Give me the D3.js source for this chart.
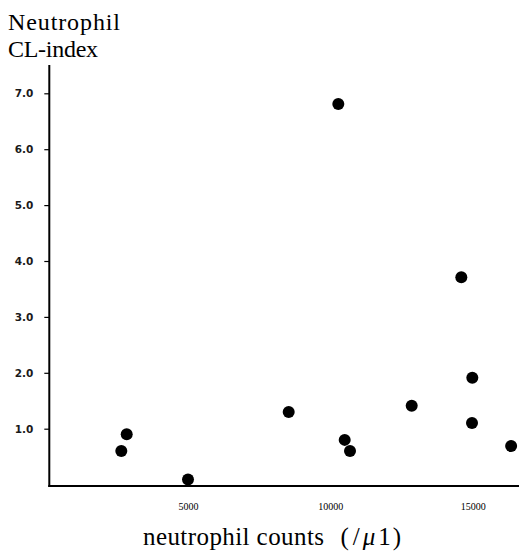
<!DOCTYPE html>
<html><head><meta charset="utf-8">
<script src="https://cdn.jsdelivr.net/npm/d3@7"></script>
<style>body{margin:0;background:#fff}</style>
</head><body>
<script>
const counts = [2657, 2847, 5000, 8537, 10279, 10504, 10690, 12857, 14600, 14986, 14975, 16350];
const clIndex = [0.60, 0.90, 0.09, 1.30, 6.81, 0.80, 0.60, 1.41, 3.71, 1.91, 1.10, 0.69];
const xTicks = [5000, 10000, 15000];
const yTicks = [1, 2, 3, 4, 5, 6, 7];

const W = 519, H = 554;
const svg = d3.select("body").append("svg").attr("width", W).attr("height", H);
const x = d3.scaleLinear().domain([0, 16640]).range([45.65, 519.4]);
const y = d3.scaleLinear().domain([0, 7]).range([484.6, 93.3]);
const axisX = 49.3, axisY = 486;

// y axis
svg.append("line").attr("x1", axisX).attr("x2", axisX).attr("y1", 65).attr("y2", axisY + 1)
  .attr("stroke", "#000").attr("stroke-width", 2);
// x axis
svg.append("line").attr("x1", axisX - 1).attr("x2", W).attr("y1", axisY).attr("y2", axisY)
  .attr("stroke", "#000").attr("stroke-width", 2);

const yAxis = d3.axisLeft(y).tickValues(yTicks).tickSize(5).tickPadding(11).tickFormat(d3.format(".1f"));
const gy = svg.append("g").attr("transform", `translate(${axisX},0)`).call(yAxis);
gy.select(".domain").remove();
gy.selectAll("line").attr("stroke", "#000").attr("stroke-width", 1.2);
gy.selectAll("text").attr("font-family", "'DejaVu Sans', sans-serif").attr("font-size", 10.5)
  .attr("font-weight", "bold").attr("fill", "#1a1a1a");

const xAxis = d3.axisBottom(x).tickValues(xTicks).tickSize(0).tickPadding(17).tickFormat(d => String(d));
const gx = svg.append("g").attr("transform", `translate(0,${axisY})`).call(xAxis);
gx.select(".domain").remove();
gx.selectAll("text").attr("font-family", "'Liberation Serif', serif").attr("font-size", 10).attr("fill", "#000");

svg.selectAll("circle.pt").data(counts.map((c, i) => [c, clIndex[i]])).enter().append("circle")
  .attr("class", "pt").attr("cx", d => x(d[0])).attr("cy", d => y(d[1])).attr("r", 6).attr("fill", "#000");

svg.append("text").attr("x", 8).attr("y", 30).attr("font-family", "'Liberation Serif', serif")
  .attr("font-size", 24).attr("textLength", 112).attr("lengthAdjust", "spacing").text("Neutrophil");
svg.append("text").attr("x", 8).attr("y", 57).attr("font-family", "'Liberation Serif', serif")
  .attr("font-size", 24).attr("textLength", 90).attr("lengthAdjust", "spacing").text("CL-index");

const xt = svg.append("text").attr("x", 143).attr("y", 545)
  .attr("font-family", "'Liberation Serif', serif").attr("font-size", 25);
xt.append("tspan").attr("textLength", 181).attr("lengthAdjust", "spacing").text("neutrophil counts");
xt.append("tspan").attr("dx", 16).text("(");
xt.append("tspan").attr("dx", 4).text("/");
xt.append("tspan").attr("dx", 3).attr("font-style", "italic").text("\u03bc");
xt.append("tspan").attr("dx", 3).text("1");
xt.append("tspan").attr("dx", 2).text(")");
</script>
</body></html>
